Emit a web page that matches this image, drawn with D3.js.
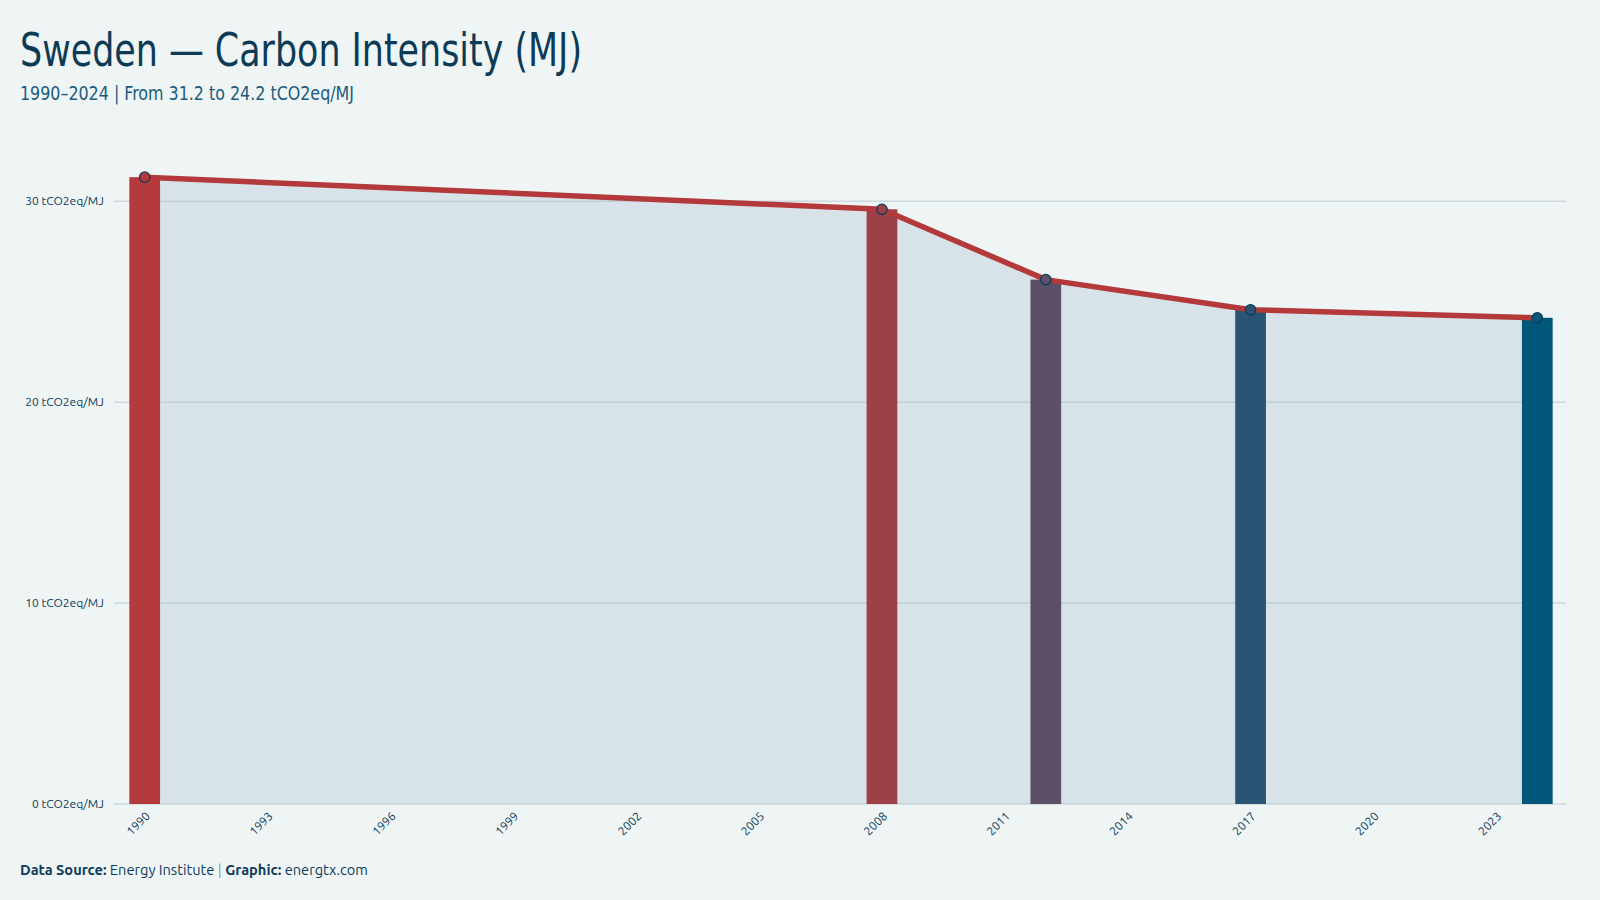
<!DOCTYPE html>
<html>
<head>
<meta charset="utf-8">
<script src="https://cdn.jsdelivr.net/npm/d3@7"></script>
<style>
  html, body { margin: 0; padding: 0; background: #eff5f5; }
  svg { display: block; }
  .cond { font-family: "Ubuntu Condensed", "Liberation Sans Narrow", "DejaVu Sans Condensed", "Roboto Condensed", "Open Sans", sans-serif; font-stretch: condensed; }
  .ui { font-family: "Ubuntu", "Noto Sans", "DejaVu Sans", sans-serif; }
</style>
</head>
<body>
<script>
// ---- data ----
const years = d3.range(1990, 2025);           // x categories
const dataYears = [1990, 2008, 2012, 2017, 2024];
const values = [31.2, 29.6, 26.1, 24.6, 24.2]; // tCO2eq/MJ
const yTicks = [0, 10, 20, 30];
const xTickYears = [1990, 1993, 1996, 1999, 2002, 2005, 2008, 2011, 2014, 2017, 2020, 2023];
const barColors = ["#b3393b", "#9c4147", "#5b5067", "#2a5474", "#00577a"];

const W = 1600, H = 900;
const svg = d3.select("body").append("svg").attr("width", W).attr("height", H);
svg.append("rect").attr("width", W).attr("height", H).attr("fill", "#eff5f5");

const x = d3.scaleBand().domain(years).range([115, 1567]).paddingInner(0.25).paddingOuter(0.35);
const y = d3.scaleLinear().domain([0, 33]).range([804, 141]);
const cx = d => x(d) + x.bandwidth() / 2;

const pts = dataYears.map((yr, i) => ({ yr, v: values[i], c: barColors[i] }));

// area
const area = d3.area().x(d => cx(d.yr)).y0(y(0)).y1(d => y(d.v));
svg.append("path").datum(pts).attr("d", area).attr("fill", "#d7e3e8");

// grid lines
svg.append("g").selectAll("line").data(yTicks).join("line")
  .attr("x1", 114).attr("x2", 1566)
  .attr("y1", d => y(d)).attr("y2", d => y(d))
  .attr("stroke", "#a3b8c0").attr("stroke-opacity", 0.45).attr("stroke-width", 1.5);

// y labels
svg.append("g").selectAll("text").data(yTicks).join("text")
  .attr("class", "ui")
  .attr("x", 104).attr("y", d => y(d)).attr("dy", "0.35em")
  .attr("text-anchor", "end").attr("font-size", 12).attr("fill", "#0d3b5a")
  .text(d => d + " tCO2eq/MJ");

// bars
svg.append("g").selectAll("rect").data(pts).join("rect")
  .attr("x", d => x(d.yr)).attr("width", x.bandwidth())
  .attr("y", d => y(d.v)).attr("height", d => y(0) - y(d.v))
  .attr("fill", d => d.c);

// line
const line = d3.line().x(d => cx(d.yr)).y(d => y(d.v));
svg.append("path").datum(pts).attr("d", line)
  .attr("fill", "none").attr("stroke", "#b3393b").attr("stroke-width", 5.5)
  .attr("stroke-linejoin", "round");

// points
svg.append("g").selectAll("circle").data(pts).join("circle")
  .attr("cx", d => cx(d.yr)).attr("cy", d => y(d.v)).attr("r", 5.2)
  .attr("fill", d => d.c).attr("stroke", "#0d3b5a").attr("stroke-width", 1.3);

// x labels
svg.append("g").selectAll("text").data(xTickYears).join("text")
  .attr("class", "ui")
  .attr("transform", d => `translate(${cx(d) + 6},${817}) rotate(-45)`)
  .attr("text-anchor", "end").attr("font-size", 12).attr("fill", "#0d3b5a")
  .text(d => d);

// title
svg.append("text").attr("class", "cond")
  .attr("x", 20).attr("y", 66).attr("font-size", 46).attr("fill", "#0d3b55")
  .attr("textLength", 562).attr("lengthAdjust", "spacingAndGlyphs")
  .text("Sweden — Carbon Intensity (MJ)");
svg.append("text").attr("class", "cond")
  .attr("x", 20).attr("y", 100).attr("font-size", 20).attr("fill", "#1b5b7d")
  .attr("textLength", 334).attr("lengthAdjust", "spacingAndGlyphs")
  .text("1990–2024 | From 31.2 to 24.2 tCO2eq/MJ");

// footer
const f = svg.append("text").attr("class", "ui")
  .attr("x", 20).attr("y", 875).attr("font-size", 14).attr("fill", "#0d3b5a")
  .attr("textLength", 348).attr("lengthAdjust", "spacingAndGlyphs");
f.append("tspan").attr("font-weight", "bold").text("Data Source:");
f.append("tspan").text(" Energy Institute ");
f.append("tspan").attr("fill", "#7f9aaa").text("|");
f.append("tspan").attr("font-weight", "bold").text(" Graphic:");
f.append("tspan").text(" energtx.com");
</script>
</body>
</html>
